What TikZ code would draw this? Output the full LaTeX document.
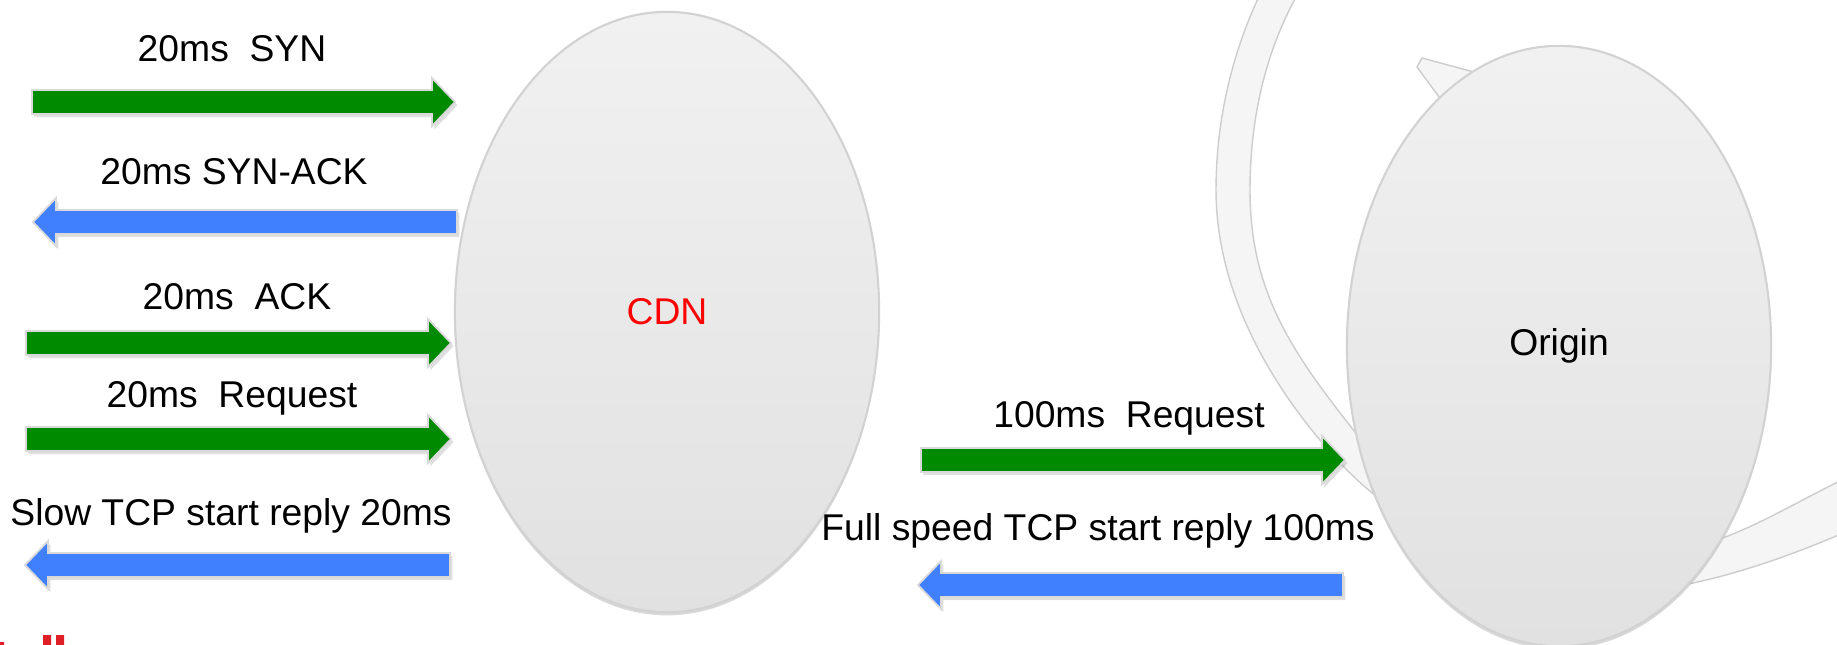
\documentclass[tikz,border=0pt]{standalone}
\usepackage{fontspec}
\setmainfont{Liberation Sans}
\usetikzlibrary{calc,positioning,shapes.geometric,shadows}

\definecolor{arrgreen}{RGB}{0,138,0}
\definecolor{arrblue}{RGB}{64,128,255}
\definecolor{elltop}{RGB}{241,241,241}
\definecolor{ellbot}{RGB}{225,225,225}
\definecolor{ellline}{RGB}{210,210,210}
\definecolor{bandfill}{RGB}{245,245,245}
\definecolor{bandline}{RGB}{205,205,205}
\definecolor{logored}{RGB}{222,32,38}

% colour, tail, tip, direction (1 = right, -1 = left)
\newcommand{\fatarrow}[4]{%
  \filldraw[fat, fill=#1]
    ($(#2)+(0,-12)$) -- ($(#3)+({-23*(#4)},-12)$) -- ($(#3)+({-23*(#4)},-24)$) -- (#3)
    -- ($(#3)+({-23*(#4)},24)$) -- ($(#3)+({-23*(#4)},12)$) -- ($(#2)+(0,12)$) -- cycle;}

\begin{document}
\begin{tikzpicture}[x=0.01cm, y=-0.01cm,
    fat/.style={draw=black!15, line width=0.5pt, line join=miter,
      drop shadow={shadow xshift=0.7pt, shadow yshift=-0.9pt, opacity=0.25}},
    lbl/.style={font=\fontsize{10.6}{13}\selectfont, inner sep=0pt, anchor=base},
    blob/.style={ellipse, minimum width=4.24cm, minimum height=6cm, inner sep=0pt,
      draw=ellline, line width=0.6pt, top color=elltop, bottom color=ellbot,
      font=\fontsize{10.6}{13}\selectfont,
      drop shadow={shadow xshift=0pt, shadow yshift=-0.9pt, opacity=0.3}},
    band/.style={fill=bandfill, draw=bandline, line width=0.4pt}]
  \fill[white] (0,0) rectangle (1837,644);
  \useasboundingbox (0,0) rectangle (1837,644);
  \clip (0,0) rectangle (1837,644);

  % circular arrow behind the origin
  \path[band] (1262,-10) .. controls (1228,60) and (1216,130) .. (1216,190)
    .. controls (1216,300) and (1280,400) .. (1345,468)
    .. controls (1420,545) and (1560,610) .. (1683,585)
    .. controls (1740,574) and (1800,552) .. (1850,530)
    -- (1850,476) .. controls (1800,500) and (1760,525) .. (1717,540)
    .. controls (1590,580) and (1420,520) .. (1355,432)
    .. controls (1290,350) and (1250,290) .. (1250,190)
    .. controls (1250,120) and (1265,50) .. (1300,-10) -- cycle;
  \path[band] (1422,58) -- (1485,75) -- (1445,105) -- (1417,67) -- cycle;

  \node[blob, text=red] (cdn) at (667,312) {CDN};
  \node[blob] (origin) at (1559,346) {Origin};

  \coordinate (synA) at (32,102);      \coordinate (synB) at (455,102);
  \coordinate (synackA) at (457,222);  \coordinate (synackB) at (33,222);
  \coordinate (ackA) at (26,343);      \coordinate (ackB) at (451,343);
  \coordinate (reqA) at (26,439);      \coordinate (reqB) at (451,439);
  \coordinate (slowA) at (450,565);    \coordinate (slowB) at (25,565);
  \coordinate (oreqA) at (921,460);    \coordinate (oreqB) at (1345,460);
  \coordinate (fullA) at (1343,585);   \coordinate (fullB) at (918,585);

  \fatarrow{arrgreen}{synA}{synB}{1}
  \fatarrow{arrblue}{synackA}{synackB}{-1}
  \fatarrow{arrgreen}{ackA}{ackB}{1}
  \fatarrow{arrgreen}{reqA}{reqB}{1}
  \fatarrow{arrblue}{slowA}{slowB}{-1}
  \fatarrow{arrgreen}{oreqA}{oreqB}{1}
  \fatarrow{arrblue}{fullA}{fullB}{-1}

  \node[lbl] (synlbl) at (232,61) {20ms\ \ SYN};
  \node[lbl] (synacklbl) at (234,184) {20ms SYN-ACK};
  \node[lbl] (acklbl) at (237,309) {20ms\ \ ACK};
  \node[lbl] (reqlbl) at (232,407) {20ms\ \ Request};
  \node[lbl] (slowlbl) at (231,525) {Slow TCP start reply 20ms};
  \node[lbl] (oreqlbl) at (1129,427) {100ms\ \ Request};
  \node[lbl] (fulllbl) at (1098,540) {Full speed TCP start reply 100ms};

  % cut-off logo
  \fill[logored] (43,635) rectangle (51,650) (56,635) rectangle (64,650) (0,642) rectangle (4,650);
\end{tikzpicture}
\end{document}
